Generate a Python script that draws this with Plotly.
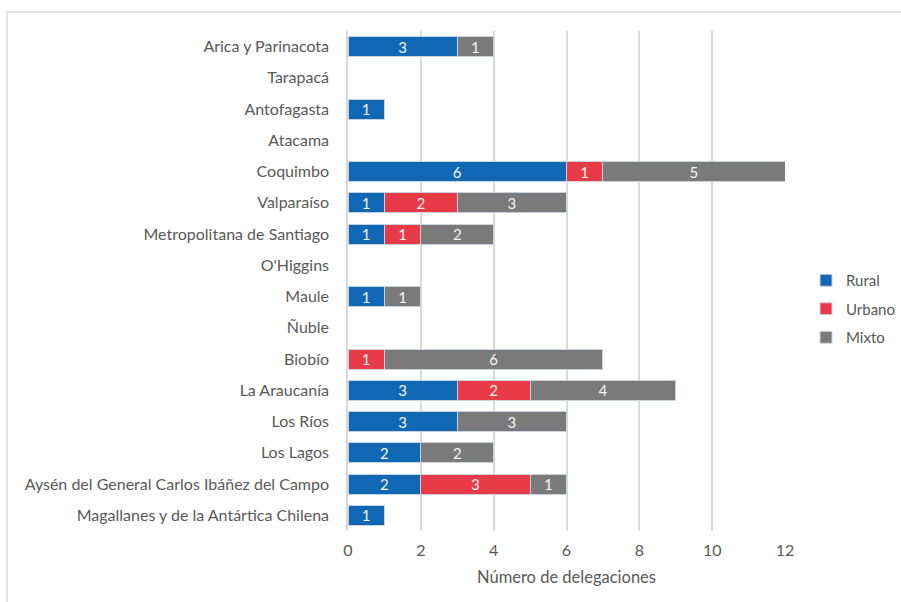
import plotly.graph_objects as go

regions = ["Arica y Parinacota", "Tarapacá", "Antofagasta", "Atacama", "Coquimbo",
           "Valparaíso", "Metropolitana de Santiago", "O'Higgins", "Maule", "Ñuble",
           "Biobío", "La Araucanía", "Los Ríos", "Los Lagos",
           "Aysén del General Carlos Ibáñez del Campo", "Magallanes y de la Antártica Chilena"]
rural  = [3, 0, 1, 0, 6, 1, 1, 0, 1, 0, 0, 3, 3, 2, 2, 1]
urbano = [0, 0, 0, 0, 1, 2, 1, 0, 0, 0, 1, 2, 0, 0, 3, 0]
mixto  = [1, 0, 0, 0, 5, 3, 2, 0, 1, 0, 6, 4, 3, 2, 1, 0]
x_ticks = [0, 2, 4, 6, 8, 10, 12]

series = [("Rural", rural, "#1068B4"), ("Urbano", urbano, "#E83A47"), ("Mixto", mixto, "#7A7A7A")]

FONT = "Lato"
FS = 16
fig = go.Figure()
for i, (name, vals, col) in enumerate(series):
    fig.add_trace(go.Bar(
        y=regions, x=[v if v else None for v in vals], name=name, orientation="h",
        marker=dict(color=col, line=dict(color="#C9D3DD", width=1)),
        text=[str(v) if v else "" for v in vals],
        textposition="inside", insidetextanchor="middle", textangle=0,
        constraintext="none",
        textfont=dict(family=FONT, size=15, color="#F4F4F4"),
        legendgroup=name, hoverinfo="x+y+name",
    ))

W, H = 901, 602
L, R, T, B = 348, 116, 31, 71
def px(x): return (x - L) / (W - L - R)
def py(y): return (H - B - y) / (H - T - B)

fig.update_layout(
    width=W, height=H, barmode="stack", bargap=0.36,
    margin=dict(l=L, r=R, t=T, b=B, autoexpand=False),
    paper_bgcolor="white", plot_bgcolor="white",
    font=dict(family=FONT, size=FS, color="#595959"),
    showlegend=True,
    legend=dict(x=px(806), y=py(309), xanchor="left", yanchor="middle",
                traceorder="grouped", tracegroupgap=6,
                font=dict(family=FONT, size=15, color="#595959"),
                itemwidth=30),
    xaxis=dict(range=[0, 12], tickvals=x_ticks, showgrid=True, gridcolor="#D9D9D9",
               gridwidth=1.5, zeroline=False, showline=False, ticks="",
               ticklabelstandoff=8, automargin=False,
               title=dict(text="Número de delegaciones", standoff=13,
                          font=dict(family=FONT, size=16.5, color="#595959"))),
    yaxis=dict(categoryorder="array", categoryarray=regions, autorange="reversed",
               showgrid=False, zeroline=False, showline=True, linecolor="#D9D9D9",
               linewidth=1.5, ticks="", ticklabelstandoff=14, automargin=False),
    shapes=[
        dict(type="line", xref="paper", yref="paper", x0=px(7), x1=px(901), y0=py(12), y1=py(12),
             line=dict(color="#D9D9D9", width=1.5)),
        dict(type="line", xref="paper", yref="paper", x0=px(7), x1=px(7), y0=py(12), y1=py(602),
             line=dict(color="#D9D9D9", width=1.5)),
    ],
)
fig.write_html("out.html", post_script="document.body.style.margin='0';",
               config={"displayModeBar": False})
